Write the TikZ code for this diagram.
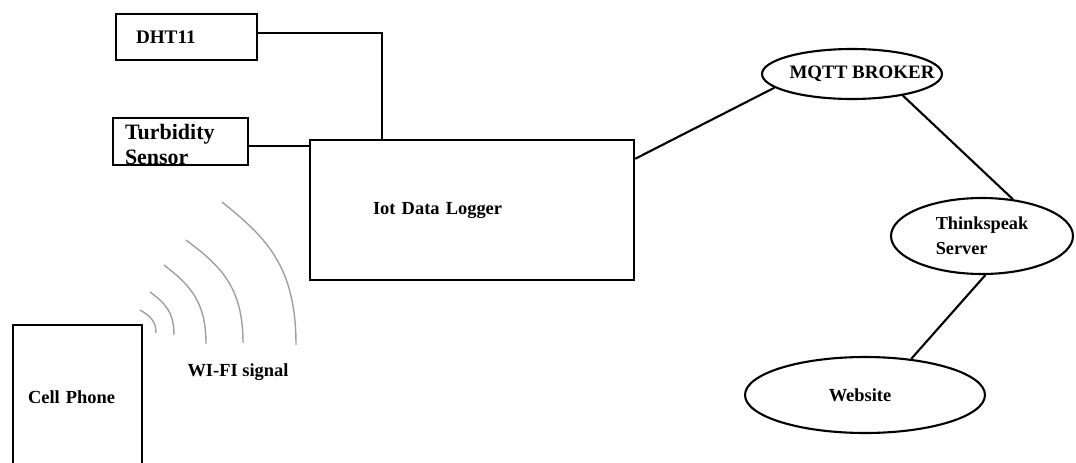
\documentclass[tikz,border=0pt]{standalone}
\usepackage{fontspec}
\setmainfont{Liberation Serif}
\usetikzlibrary{positioning, shapes.geometric}

\begin{document}
\begin{tikzpicture}[
        x=0.02cm, y=-0.02cm,
        every node/.style={font=\fontsize{10.5}{12.5}\selectfont\bfseries},
        box/.style={draw, line width=1.4pt, inner sep=0pt, align=left},
        cloud/.style={draw, ellipse, line width=1.2pt, inner sep=0pt, align=left},
        wire/.style={line width=1.2pt},
        wave/.style={gray!75, line width=0.8pt},
    ]

    \useasboundingbox (0,0) rectangle (1076,463);
    \clip (0,0) rectangle (1076,463);

    %% Sensors
    \node[box, minimum width=2.82cm, minimum height=0.92cm, text width=2.02cm, inner xsep=0.4cm, font=\fontsize{10.9}{12}\selectfont\bfseries] (dht) at (186.5,37) {DHT11};
    \node[box, minimum width=2.7cm, minimum height=0.94cm, text width=2.22cm, inner xsep=0.24cm, text height=0pt, text depth=2.8pt, font=\fontsize{12.5}{14.7}\selectfont\bfseries] (turb) at (180.5,141.5) {Turbidity\\Sensor};

    %% Logger and phone
    \node[box, minimum width=6.48cm, minimum height=2.8cm, text width=3.96cm, inner xsep=1.26cm] (logger) at (472,210) {Iot Data Logger};
    \node[box, minimum width=2.58cm, minimum height=2.9cm, text width=1.98cm, inner xsep=0.3cm] (phone) at (77.5,397.5) {Cell Phone};

    %% Cloud side
    \node[cloud, minimum width=3.6cm, minimum height=1.0cm, font=\fontsize{10.8}{12}\selectfont\bfseries] (mqtt) at (852,74) {\makebox[2cm]{\hspace{0.4cm}MQTT BROKER}};
    \node[cloud, minimum width=3.64cm, minimum height=1.52cm, font=\fontsize{10.4}{14}\selectfont\bfseries] (think) at (982,236) {Thinkspeak\\Server};
    \node[cloud, minimum width=4.8cm, minimum height=1.52cm] (web) at (865,395) {\makebox[1cm]{Website\hspace{0.2cm}}};

    %% Wires
    \draw[wire] ([yshift=0.08cm]dht.east) -| ([xshift=1.46cm]logger.north west);
    \draw[wire] ([yshift=-0.09cm]turb.east) -- ([yshift=-0.09cm]turb.east -| logger.west);
    \draw[wire] ([yshift=-0.4cm]logger.north east) -- (mqtt.190);
    \draw[wire] (mqtt.337) -- (think.50);
    \draw[wire] (think.-85) -- (web.38);

    %% Wi-Fi signal
    \foreach \a/\b/\c/\d in {140/310/156/333, 150/292/174/335, 164/265/206/344, 186/240/243/343, 222/202/296/345} {
        \draw[wave] (\a,\b) .. controls ({\a+0.6*(\c-\a)},{\b+0.25*(\d-\b)}) and (\c,{\d-0.55*(\d-\b)}) .. (\c,\d);
    }
    \node (wifi) at (238,372) {WI-FI signal};

\end{tikzpicture}
\end{document}
